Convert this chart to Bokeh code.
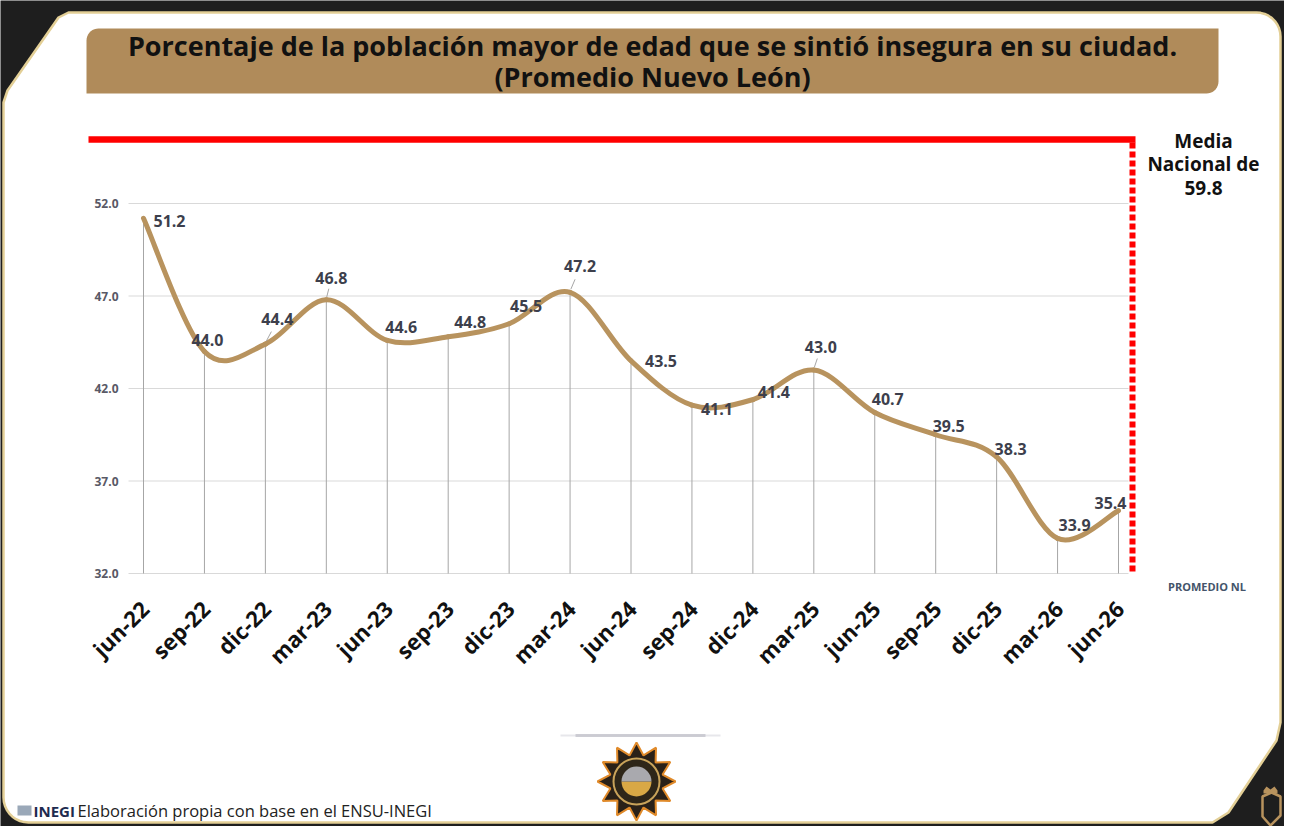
import numpy as np
from bokeh.plotting import figure
from bokeh.models import Range1d, Legend, LegendItem
from bokeh.core.properties import value
from bokeh.embed import file_html
from bokeh.resources import INLINE

# ---------------- data ----------------
periods = ["jun-22", "sep-22", "dic-22", "mar-23", "jun-23", "sep-23", "dic-23",
           "mar-24", "jun-24", "sep-24", "dic-24", "mar-25", "jun-25", "sep-25",
           "dic-25", "mar-26", "jun-26"]
promedio_nl = [51.2, 44.0, 44.4, 46.8, 44.6, 44.8, 45.5, 47.2, 43.5, 41.1,
               41.4, 43.0, 40.7, 39.5, 38.3, 33.9, 35.4]
y_ticks = [32.0, 37.0, 42.0, 47.0, 52.0]
y_tick_labels = ["32.0", "37.0", "42.0", "47.0", "52.0"]
media_nacional = 59.8
series_name = "PROMEDIO NL"
title_lines = ["Porcentaje de la población mayor de edad que se sintió insegura en su ciudad.",
               "(Promedio Nuevo León)"]
note_lines = ["Media", "Nacional de", f"{media_nacional:.1f}"]
source_brand = "INEGI"
source_text = "Elaboración propia con base en el ENSU-INEGI"

# label placement (pixel offsets from each point) - layout, not data
label_dx = [26, 3, 12, 5, 14, 22, 17, 10, 30, 25, 21, 7, 13, 13, 14, 17, -8]
label_dy = [3, -12, -25, -22, -13, -15, -18, -26, 0, 4, -8, -23, -14, -9, -8, -13, -8]
leader = [False, False, True, True, False, False, False, True, False, False,
          False, True, False, False, False, False, False]

# ---------------- layout ----------------
W, H = 1284, 826
PX0, PX1, PY0, PY1 = 0, W, 0, H                  # page pixel coords of frame
X_FIRST, X_LAST = 143, 1118                      # pixel x of first/last period
Y_TOP_PX, Y_BOT_PX = 203, 573                    # pixel y of top/bottom tick
n = len(periods)
DX = (X_LAST - X_FIRST) / (n - 1)
DY = (Y_BOT_PX - Y_TOP_PX) / (y_ticks[-1] - y_ticks[0])
x_rng = Range1d(-(X_FIRST - PX0) / DX, (n - 1) + (PX1 - X_LAST) / DX)
y_rng = Range1d(y_ticks[0] - (PY1 - Y_BOT_PX) / DY, y_ticks[-1] + (Y_TOP_PX - PY0) / DY)

FONT = value("Open Sans")
DARK = "#1e1e1e"
GOLD_LINE = "#B8935E"

p = figure(width=W, height=H, x_range=x_rng, y_range=y_rng,
           output_backend="svg", toolbar_location=None,
           x_axis_location=None, y_axis_location=None, min_border=0)
p.outline_line_color = None
p.background_fill_color = DARK
p.border_fill_color = DARK
p.xgrid.visible = False
p.ygrid.visible = False
p.extra_x_ranges = {"px": Range1d(PX0, PX1)}
p.extra_y_ranges = {"py": Range1d(PY1, PY0)}
PXK = dict(x_range_name="px", y_range_name="py")


def arc(cx, cy, r, a0, a1, k=10):
    a = np.radians(np.linspace(a0, a1, k))
    return list(cx + r * np.cos(a)), list(cy + r * np.sin(a))


# ---- card ----
cx, cy = [68], [12]
ax, ay = arc(1256, 36, 24, -90, 0); cx += ax; cy += ay
cx += [1280, 1276, 1228, 1212]; cy += [722, 740, 812, 822]
ax, ay = arc(28, 797, 25, 90, 180); cx += ax; cy += ay
cx += [3, 7, 58]; cy += [102, 90, 17]
p.patch(cx, cy, fill_color="white", line_color="#E3CF96", line_width=2.5, **PXK)

# ---- title box ----
tx, ty = [], []
ax, ay = arc(98, 40, 12, 180, 270); tx += ax; ty += ay
tx += [1218]; ty += [28]
ax, ay = arc(1206, 81, 12, 0, 90); tx += ax; ty += ay
tx += [86]; ty += [93]
p.patch(tx, ty, fill_color="#B08B5A", line_color=None, **PXK)
p.text(x=[652, 652], y=[45, 76], text=title_lines, text_font=FONT,
       text_font_style="bold", text_font_size=value("27px"), text_color="#111111",
       text_align="center", text_baseline="middle", **PXK)

# ---- media nacional marker ----
p.segment(x0=[88], y0=[139], x1=[1135], y1=[139], line_color="#FF0000",
          line_width=6.5, **PXK)
p.segment(x0=[1132], y0=[142], x1=[1132], y1=[572], line_color="#FF0000",
          line_width=6, line_dash="6 3", **PXK)
p.text(x=[1203] * 3, y=[140, 163, 187], text=note_lines, text_font=FONT,
       text_font_style="bold", text_font_size=value("19px"), text_color="#111111",
       text_align="center", text_baseline="middle", **PXK)

# ---- grid and y tick labels ----
p.segment(x0=[128] * len(y_ticks), x1=[1128] * len(y_ticks), y0=y_ticks, y1=y_ticks,
          line_color="#D9D9D9", line_width=1, x_range_name="px")
p.text(x=[118] * len(y_ticks), y=y_ticks, text=y_tick_labels, text_font=FONT,
       text_font_style="bold", text_font_size=value("12px"), text_color="#595966",
       text_align="right", text_baseline="middle", x_range_name="px")

# ---- drop lines ----
xi = np.arange(n, dtype=float)
yv = np.array(promedio_nl, dtype=float)
p.segment(x0=xi, y0=yv, x1=xi, y1=[y_ticks[0]] * n, line_color="#A6A6A6", line_width=1)

# ---- smoothed line (Catmull-Rom -> cubic Bezier) ----
xp = np.concatenate([[xi[0]], xi, [xi[-1]]])
yp = np.concatenate([[yv[0]], yv, [yv[-1]]])
i = np.arange(n - 1)
p.bezier(x0=xi[:-1], y0=yv[:-1], x1=xi[1:], y1=yv[1:],
         cx0=xi[:-1] + (xp[i + 2] - xp[i]) / 6, cy0=yv[:-1] + (yp[i + 2] - yp[i]) / 6,
         cx1=xi[1:] - (xp[i + 3] - xp[i + 1]) / 6, cy1=yv[1:] - (yp[i + 3] - yp[i + 1]) / 6,
         line_color=GOLD_LINE, line_width=5, line_cap="round")

# ---- leaders and data labels ----
ldx = np.array(label_dx, dtype=float)
ldy = np.array(label_dy, dtype=float)
lm = np.array(leader)
p.segment(x0=xi[lm] + ldx[lm] * 0.08 / DX, y0=yv[lm] - ldy[lm] * 0.12 / DY,
          x1=xi[lm] + ldx[lm] * 0.5 / DX, y1=yv[lm] - ldy[lm] * 0.5 / DY,
          line_color="#A6A6A6", line_width=1)
p.text(x=xi + ldx / DX, y=yv - ldy / DY, text=[f"{v:.1f}" for v in promedio_nl],
       text_font=FONT, text_font_style="bold", text_font_size=value("16px"),
       text_color="#3D3F4C", text_align="center", text_baseline="middle")

# ---- x labels ----
p.text(x=xi + 1 / DX, y=[y_ticks[0] - 31 / DY] * n, text=periods, angle=np.pi / 4,
       text_font=FONT, text_font_style="bold", text_font_size=value("22px"),
       text_color="#111111", text_align="right", text_baseline="middle")

# ---- legend ----
leg_r = p.line(x=[], y=[], line_color=GOLD_LINE, line_width=5, line_cap="round")
legend = Legend(items=[LegendItem(label=series_name, renderers=[leg_r])],
                location=(1140, 232), border_line_color=None, background_fill_alpha=0,
                padding=0, margin=0, spacing=0, glyph_width=26, glyph_height=12,
                label_height=12, label_standoff=2, label_text_font="Open Sans",
                label_text_font_size="11px", label_text_font_style="bold",
                label_text_color="#44546A")
p.add_layout(legend)

# ---- footer ----
p.segment(x0=[575], y0=[735], x1=[705], y1=[735], line_color="#C4C4CC",
          line_width=3, line_alpha=0.8, **PXK)
p.segment(x0=[560], y0=[735], x1=[720], y1=[735], line_color="#C4C4CC",
          line_width=2, line_alpha=0.4, **PXK)
ang = np.radians(np.arange(24) * 360 / 24 - 90)
rad = np.where(np.arange(24) % 2 == 0, 39, 27)
p.patch(list(636 + rad * np.cos(ang)), list(781 + rad * np.sin(ang)),
        fill_color="#2A2118", line_color="#E08A2A", line_width=2, **PXK)
p.scatter(x=[636], y=[781], size=46, marker="circle", fill_color="#2E2619",
          line_color="#C9A35A", line_width=2, **PXK)
p.wedge(x=[636], y=[781], radius=15, start_angle=0, end_angle=np.pi,
        direction="clock", radius_units="screen", fill_color="#D9A845",
        line_color=None, **PXK)
p.wedge(x=[636], y=[781], radius=15, start_angle=np.pi, end_angle=0,
        direction="clock", radius_units="screen", fill_color="#A9A9AE",
        line_color=None, **PXK)
p.quad(left=[17], right=[31], top=[805], bottom=[815], fill_color="#9AA8B8",
       line_color=None, **PXK)
p.text(x=[33], y=[810], text=[source_brand], text_font=FONT, text_font_style="bold",
       text_font_size=value("15px"), text_color="#1E2B4F", text_align="left",
       text_baseline="middle", **PXK)
p.text(x=[77], y=[810], text=[source_text], text_font=FONT,
       text_font_size=value("16.5px"), text_color="#222222", text_align="left",
       text_baseline="middle", **PXK)
# bottom-right brand mark
p.patch([1262, 1262, 1270, 1280, 1280, 1271], [796, 816, 825, 815, 796, 792],
        fill_color=None, line_color="#B8935E", line_width=2.5, **PXK)
p.patch([1263, 1266, 1270, 1274, 1277, 1277, 1263], [790, 786, 789, 786, 790, 793, 793],
        fill_color="#B8935E", line_color=None, **PXK)

html = file_html(p, INLINE)
html = html.replace("<body>", '<body style="background-color:#1e1e1e;">', 1)
open("out.html", "w").write(html)
